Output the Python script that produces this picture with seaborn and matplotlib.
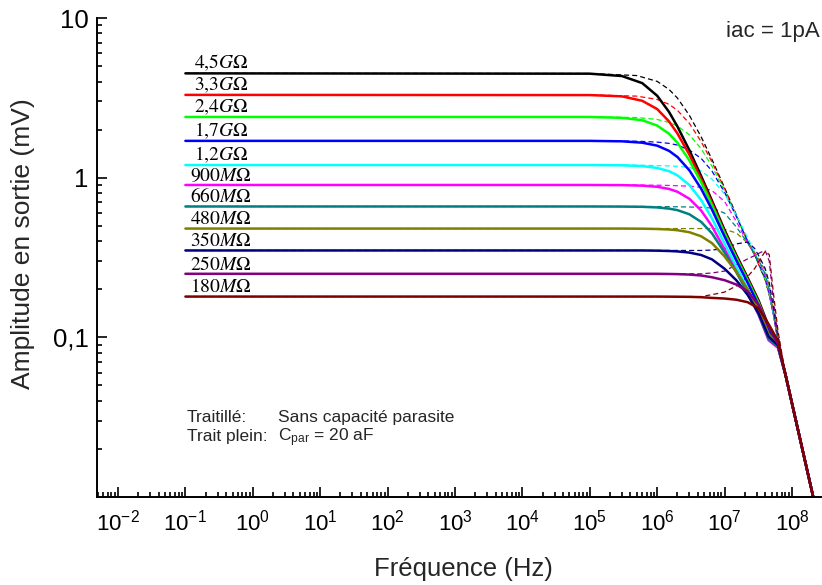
import numpy as np
import pandas as pd
import matplotlib
matplotlib.use("Agg")
import matplotlib.pyplot as plt
import seaborn as sns
from matplotlib.ticker import (LogLocator, FixedLocator, FixedFormatter,
                               NullFormatter, LogFormatterSciNotation)

# ---------------- data ----------------
LABELS = ["4,5GΩ", "3,3GΩ", "2,4GΩ", "1,7GΩ", "1,2GΩ", "900MΩ",
          "660MΩ", "480MΩ", "350MΩ", "250MΩ", "180MΩ"]
COLORS = ["#000000", "#FF0000", "#00FF00", "#0000FF", "#00FFFF", "#FF00FF",
          "#008080", "#808000", "#000080", "#800080", "#800000"]

# solid curves (C_par = 20 aF)
FREQ_SOLID = [1e-1, 1e5, 3e5, 6e5, 1e6, 1.5e6, 2e6, 3e6, 4.5e6, 6.5e6,
              1e7, 1.5e7, 2.2e7, 3.2e7, 4.5e7, 6.2e7]
SOLID_4G5 = [4.5, 4.48, 4.33, 3.91, 3.26, 2.58, 2.09, 1.487, 1.022, 0.718, 0.47, 0.327, 0.236, 0.170, 0.1176, 0.089]
SOLID_3G3 = [3.3, 3.29, 3.23, 3.03, 2.69, 2.25, 1.89, 1.395, 0.98, 0.695, 0.457, 0.319, 0.2306, 0.166, 0.115, 0.088]
SOLID_2G4 = [2.4, 2.40, 2.37, 2.29, 2.12, 1.884, 1.653, 1.284, 0.934, 0.673, 0.448, 0.314, 0.227, 0.1636, 0.1135, 0.088]
SOLID_1G7 = [1.7, 1.70, 1.689, 1.656, 1.587, 1.472, 1.347, 1.113, 0.851, 0.631, 0.428, 0.302, 0.2195, 0.158, 0.110, 0.088]
SOLID_1G2 = [1.2, 1.2, 1.195, 1.182, 1.151, 1.098, 1.034, 0.9, 0.723, 0.556, 0.386, 0.276, 0.2016, 0.146, 0.101, 0.087]
SOLID_900M = [0.9, 0.9, 0.898, 0.891, 0.877, 0.85, 0.816, 0.738, 0.622, 0.4966, 0.3555, 0.258, 0.190, 0.138, 0.0959, 0.086]
SOLID_660M = [0.66, 0.66, 0.659, 0.657, 0.651, 0.64, 0.626, 0.59, 0.528, 0.448, 0.3396, 0.255, 0.191, 0.140, 0.0977, 0.087]
SOLID_480M = [0.48, 0.48, 0.48, 0.479, 0.477, 0.4735, 0.4686, 0.4554, 0.4293, 0.389, 0.321, 0.257, 0.200, 0.1495, 0.1054, 0.088]
SOLID_350M = [0.35, 0.35, 0.35, 0.35, 0.349, 0.3473, 0.3452, 0.3395, 0.3277, 0.3078, 0.2689, 0.2273, 0.1844, 0.1413, 0.101, 0.089]
SOLID_250M = [0.25, 0.25, 0.25, 0.25, 0.2499, 0.2493, 0.2488, 0.2472, 0.2439, 0.2378, 0.228, 0.214, 0.194, 0.160, 0.118, 0.091]
SOLID_180M = [0.18, 0.18, 0.18, 0.18, 0.18, 0.1798, 0.1796, 0.1793, 0.1784, 0.1766, 0.175, 0.172, 0.166, 0.152, 0.121, 0.095]

# dashed curves (no parasitic capacitance)
FREQ_DASHED = [1e-1, 1e5, 5e5, 1e6, 1.5e6, 2e6, 3e6, 4.5e6, 6.5e6, 1e7,
               1.5e7, 2.2e7, 2.8e7, 3.4e7, 4e7, 4.6e7, 5.3e7, 6.2e7]
DASH_4G5 = [4.5, 4.49, 4.36, 4.01, 3.57, 3.15, 2.46, 1.80, 1.30, 0.865, 0.583, 0.40, 0.33, 0.27, 0.23, 0.185, 0.14, 0.095]
DASH_3G3 = [3.3, 3.3, 3.24, 3.09, 2.88, 2.64, 2.19, 1.68, 1.254, 0.851, 0.578, 0.398, 0.33, 0.27, 0.23, 0.185, 0.14, 0.095]
DASH_2G4 = [2.4, 2.4, 2.38, 2.315, 2.22, 2.107, 1.858, 1.517, 1.18, 0.827, 0.57, 0.395, 0.325, 0.27, 0.23, 0.185, 0.14, 0.095]
DASH_1G7 = [1.7, 1.7, 1.692, 1.67, 1.64, 1.60, 1.49, 1.32, 1.10, 0.81, 0.57, 0.40, 0.33, 0.275, 0.235, 0.188, 0.14, 0.095]
DASH_1G2 = [1.2, 1.2, 1.197, 1.19, 1.185, 1.178, 1.16, 1.10, 0.98, 0.79, 0.58, 0.42, 0.34, 0.28, 0.24, 0.19, 0.14, 0.095]
DASH_900M = [0.9, 0.9, 0.899, 0.897, 0.894, 0.89, 0.885, 0.87, 0.83, 0.71, 0.53, 0.39, 0.33, 0.285, 0.245, 0.195, 0.14, 0.097]
DASH_660M = [0.66, 0.66, 0.66, 0.659, 0.658, 0.657, 0.655, 0.652, 0.645, 0.60, 0.49, 0.39, 0.33, 0.29, 0.25, 0.20, 0.145, 0.097]
DASH_480M = [0.48, 0.48, 0.48, 0.48, 0.48, 0.48, 0.48, 0.48, 0.48, 0.475, 0.45, 0.39, 0.34, 0.30, 0.26, 0.21, 0.15, 0.098]
DASH_350M = [0.35, 0.35, 0.35, 0.35, 0.35, 0.35, 0.35, 0.35, 0.352, 0.36, 0.385, 0.395, 0.36, 0.31, 0.27, 0.22, 0.155, 0.10]
DASH_250M = [0.25, 0.25, 0.25, 0.25, 0.25, 0.25, 0.25, 0.25, 0.253, 0.26, 0.285, 0.31, 0.325, 0.34, 0.35, 0.30, 0.17, 0.105]
DASH_180M = [0.18, 0.18, 0.18, 0.18, 0.18, 0.18, 0.18, 0.18, 0.185, 0.192, 0.21, 0.24, 0.27, 0.31, 0.345, 0.33, 0.19, 0.11]

# common high-frequency tail (all curves converge)
FREQ_TAIL = [8e7, 1e8, 1.3e8, 1.6e8, 2.1e8]
AMP_TAIL = [0.0585, 0.0386, 0.0237, 0.0161, 0.0097]

XTICKS = [1e-2, 1e-1, 1e0, 1e1, 1e2, 1e3, 1e4, 1e5, 1e6, 1e7, 1e8]
YTICKS = [0.1, 1, 10]
YTICK_LABELS = ["0,1", "1", "10"]
LABEL_FREQ = 0.34

SOLIDS = [SOLID_4G5, SOLID_3G3, SOLID_2G4, SOLID_1G7, SOLID_1G2, SOLID_900M,
          SOLID_660M, SOLID_480M, SOLID_350M, SOLID_250M, SOLID_180M]
DASHES = [DASH_4G5, DASH_3G3, DASH_2G4, DASH_1G7, DASH_1G2, DASH_900M,
          DASH_660M, DASH_480M, DASH_350M, DASH_250M, DASH_180M]

rows_s, rows_d = [], []
for lab, s, d in zip(LABELS, SOLIDS, DASHES):
    for f, a in zip(FREQ_SOLID + FREQ_TAIL, s + AMP_TAIL):
        rows_s.append((lab, f, a))
    for f, a in zip(FREQ_DASHED + FREQ_TAIL, d + AMP_TAIL):
        rows_d.append((lab, f, a))
df_s = pd.DataFrame(rows_s, columns=["curve", "freq", "amp"])
df_d = pd.DataFrame(rows_d, columns=["curve", "freq", "amp"])

# ---------------- style ----------------
sns.set_theme(style="ticks")
plt.rcParams.update({
    "font.family": ["Liberation Sans", "DejaVu Sans"],
    "mathtext.fontset": "custom",
    "mathtext.rm": "Liberation Sans",
    "mathtext.it": "Liberation Sans:italic",
    "mathtext.bf": "Liberation Sans:bold",
    "axes.unicode_minus": False,
    "axes.linewidth": 1.4,
    "axes.edgecolor": "black",
    "xtick.color": "black",
    "ytick.color": "black",
})

fig = plt.figure(figsize=(8.22, 5.85), dpi=100)
ax = fig.add_axes([97 / 822, 88 / 585, 725 / 822, 479 / 585])

pal = dict(zip(LABELS, COLORS))
sns.lineplot(data=df_d, x="freq", y="amp", hue="curve", hue_order=LABELS,
             palette=pal, estimator=None, sort=False, errorbar=None,
             legend=False, linewidth=0.9, linestyle=(0, (4, 2.5)), ax=ax)
sns.lineplot(data=df_s, x="freq", y="amp", hue="curve", hue_order=LABELS,
             palette=pal, estimator=None, sort=False, errorbar=None,
             legend=False, linewidth=1.8, ax=ax)

ax.set_xscale("log")
ax.set_yscale("log")
ax.set_xlim(0.00488, 2.79e8)
ax.set_ylim(0.01, 10)

ax.xaxis.set_major_locator(FixedLocator(XTICKS))
ax.xaxis.set_minor_locator(LogLocator(base=10, subs=np.arange(2, 10), numticks=300))
ax.xaxis.set_major_formatter(LogFormatterSciNotation())
ax.xaxis.set_minor_formatter(NullFormatter())
ax.yaxis.set_major_locator(FixedLocator(YTICKS))
ax.yaxis.set_major_formatter(FixedFormatter(YTICK_LABELS))
ax.yaxis.set_minor_locator(LogLocator(base=10, subs=np.arange(2, 10), numticks=30))
ax.yaxis.set_minor_formatter(NullFormatter())

ax.tick_params(which="both", direction="in", width=1.2, top=False, right=False)
ax.tick_params(which="major", length=7)
ax.tick_params(which="minor", length=3.5)
ax.tick_params(axis="x", which="major", labelsize=16, pad=9)
ax.tick_params(axis="y", which="major", labelsize=18.5, pad=6)
sns.despine(ax=ax)

ax.set_xlabel("Fréquence (Hz)", fontsize=18.5)
ax.set_ylabel("Amplitude en sortie (mV)", fontsize=19)
ax.xaxis.set_label_coords(0.505, -0.126)
ax.yaxis.set_label_coords(-0.085, 0.53)

for lab, s in zip(LABELS, SOLIDS):
    txt = "$" + lab.replace(",", "{,}").replace("Ω", r"\Omega") + "$"
    ax.annotate(txt, xy=(LABEL_FREQ, s[0]), xytext=(0, 0.2),
                textcoords="offset points", ha="center", va="bottom",
                fontsize=14, math_fontfamily="stix", color="black")

fig.text(187 / 822, 1 - 422 / 585, "Traitillé:", fontsize=12.5, va="baseline")
fig.text(278 / 822, 1 - 422 / 585, "Sans capacité parasite", fontsize=12.5, va="baseline")
fig.text(187 / 822, 1 - 441.5 / 585, "Trait plein:", fontsize=12.5, va="baseline")
fig.text(278 / 822, 1 - 441.5 / 585, r"C$_{\mathrm{par}}$ = 20 aF", fontsize=12.5, va="baseline")
fig.text(726 / 822, 1 - 37 / 585, "iac = 1pA", fontsize=16, va="baseline")

fig.savefig("out.png", dpi=100)
